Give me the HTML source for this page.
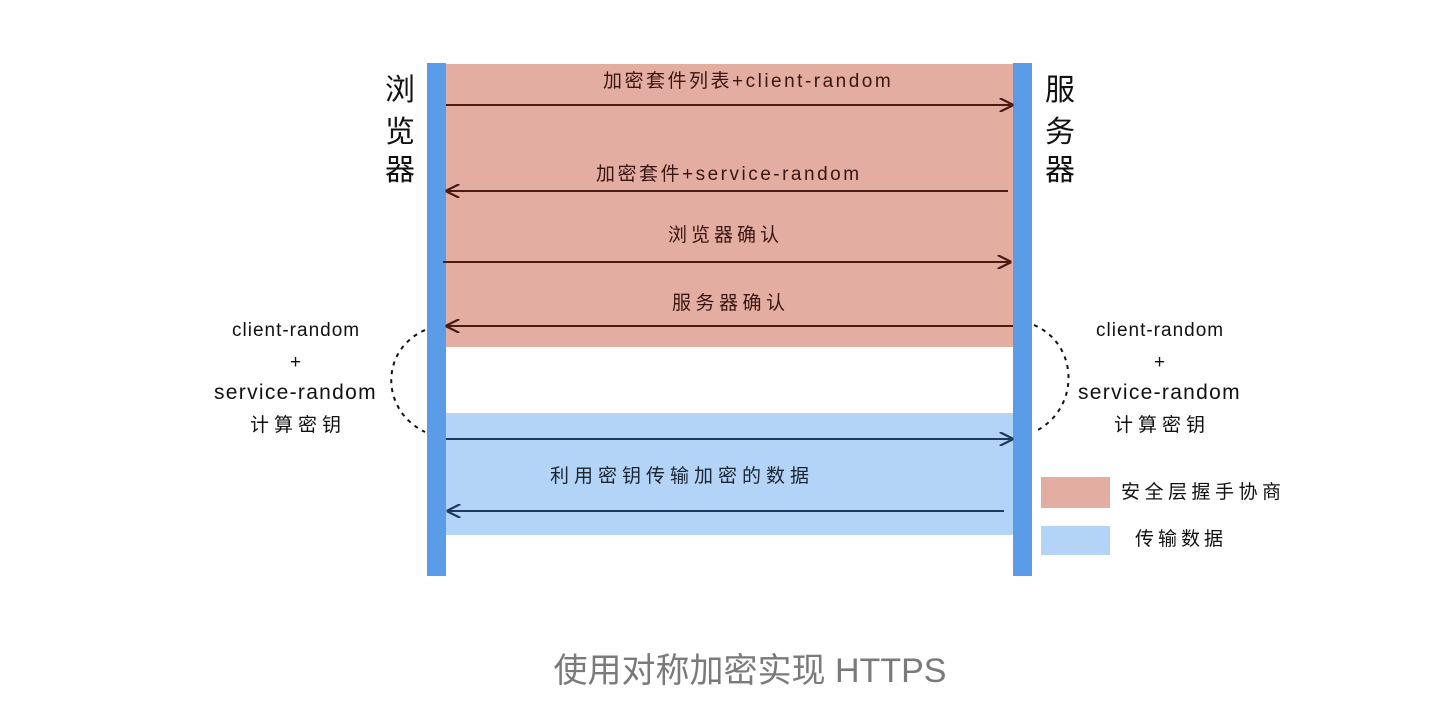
<!DOCTYPE html>
<html><head><meta charset="utf-8"><style>
html,body{margin:0;padding:0;background:#fff;width:1450px;height:724px;overflow:hidden}
svg{display:block}
text{font-family:"Liberation Sans","Noto Sans CJK SC",sans-serif}
</style></head><body>
<svg width="1450" height="724" viewBox="0 0 1450 724" xmlns="http://www.w3.org/2000/svg">
<defs>
<marker id="ab" viewBox="0 0 10 10" refX="9" refY="5" markerWidth="14" markerHeight="14" markerUnits="userSpaceOnUse" orient="auto-start-reverse"><path d="M0,0 L10,5 L0,10" fill="none" stroke="#4a1a14" stroke-width="1.6"/></marker>
<marker id="an" viewBox="0 0 10 10" refX="9" refY="5" markerWidth="14" markerHeight="14" markerUnits="userSpaceOnUse" orient="auto-start-reverse"><path d="M0,0 L10,5 L0,10" fill="none" stroke="#1f3a5c" stroke-width="1.6"/></marker>
</defs>
<rect x="446" y="64" width="567" height="283" fill="#e4ada1"/>
<rect x="446" y="413" width="567" height="122" fill="#b3d4f6"/>
<rect x="427" y="63" width="19" height="513" fill="#5b9ce9"/>
<rect x="1013" y="63" width="19" height="513" fill="#5b9ce9"/>
<g stroke="#4a1a14" stroke-width="2" fill="none">
<line x1="446" y1="105" x2="1012" y2="105" marker-end="url(#ab)"/>
<line x1="447" y1="191" x2="1008" y2="191" marker-start="url(#ab)"/>
<line x1="443" y1="262" x2="1010" y2="262" marker-end="url(#ab)"/>
<line x1="447" y1="326" x2="1013" y2="326" marker-start="url(#ab)"/>
</g>
<g stroke="#1f3a5c" stroke-width="2" fill="none">
<line x1="446" y1="439" x2="1012" y2="439" marker-end="url(#an)"/>
<line x1="448" y1="511" x2="1004" y2="511" marker-start="url(#an)"/>
</g>
<g fill="#3a1612" font-size="19">
<text x="603" y="87" letter-spacing="2.5">加密套件列表+client-random</text>
<text x="596" y="180" letter-spacing="2.5">加密套件+service-random</text>
<text x="668" y="241" letter-spacing="4">浏览器确认</text>
<text x="672" y="309" letter-spacing="4.5">服务器确认</text>
</g>
<text x="550" y="482" fill="#1a2433" font-size="19" letter-spacing="5">利用密钥传输加密的数据</text>
<g font-size="30" fill="#111" text-anchor="middle">
<text x="400" y="100">浏</text><text x="400" y="142">览</text><text x="400" y="180">器</text>
<text x="1060" y="100">服</text><text x="1060" y="142">务</text><text x="1060" y="180">器</text>
</g>
<g font-size="19" fill="#111">
<text x="232" y="336" letter-spacing="1">client-random</text>
<text x="290" y="368">+</text>
<text x="214" y="399" font-size="21" letter-spacing="1.3">service-random</text>
<text x="250" y="431" letter-spacing="5">计算密钥</text>
<text x="1096" y="336" letter-spacing="1">client-random</text>
<text x="1154" y="368">+</text>
<text x="1078" y="399" font-size="21" letter-spacing="1.3">service-random</text>
<text x="1114" y="431" letter-spacing="5">计算密钥</text>
</g>
<path d="M425,330 C380,350 380,410 425,432" fill="none" stroke="#111" stroke-width="2" stroke-dasharray="4,5"/>
<path d="M1034,325 C1080,345 1080,410 1034,432" fill="none" stroke="#111" stroke-width="2" stroke-dasharray="4,5"/>
<rect x="1041" y="477" width="69" height="31" fill="#e4ada1"/>
<rect x="1041" y="526" width="69" height="29" fill="#b3d4f6"/>
<text x="1121" y="493" font-size="19" fill="#111" dominant-baseline="middle" letter-spacing="4.5">安全层握手协商</text>
<text x="1135" y="540" font-size="19" fill="#111" dominant-baseline="middle" letter-spacing="4">传输数据</text>
<text x="750" y="682" font-size="34" fill="#7a7a7a" text-anchor="middle">使用对称加密实现 HTTPS</text>
</svg>
</body></html>
